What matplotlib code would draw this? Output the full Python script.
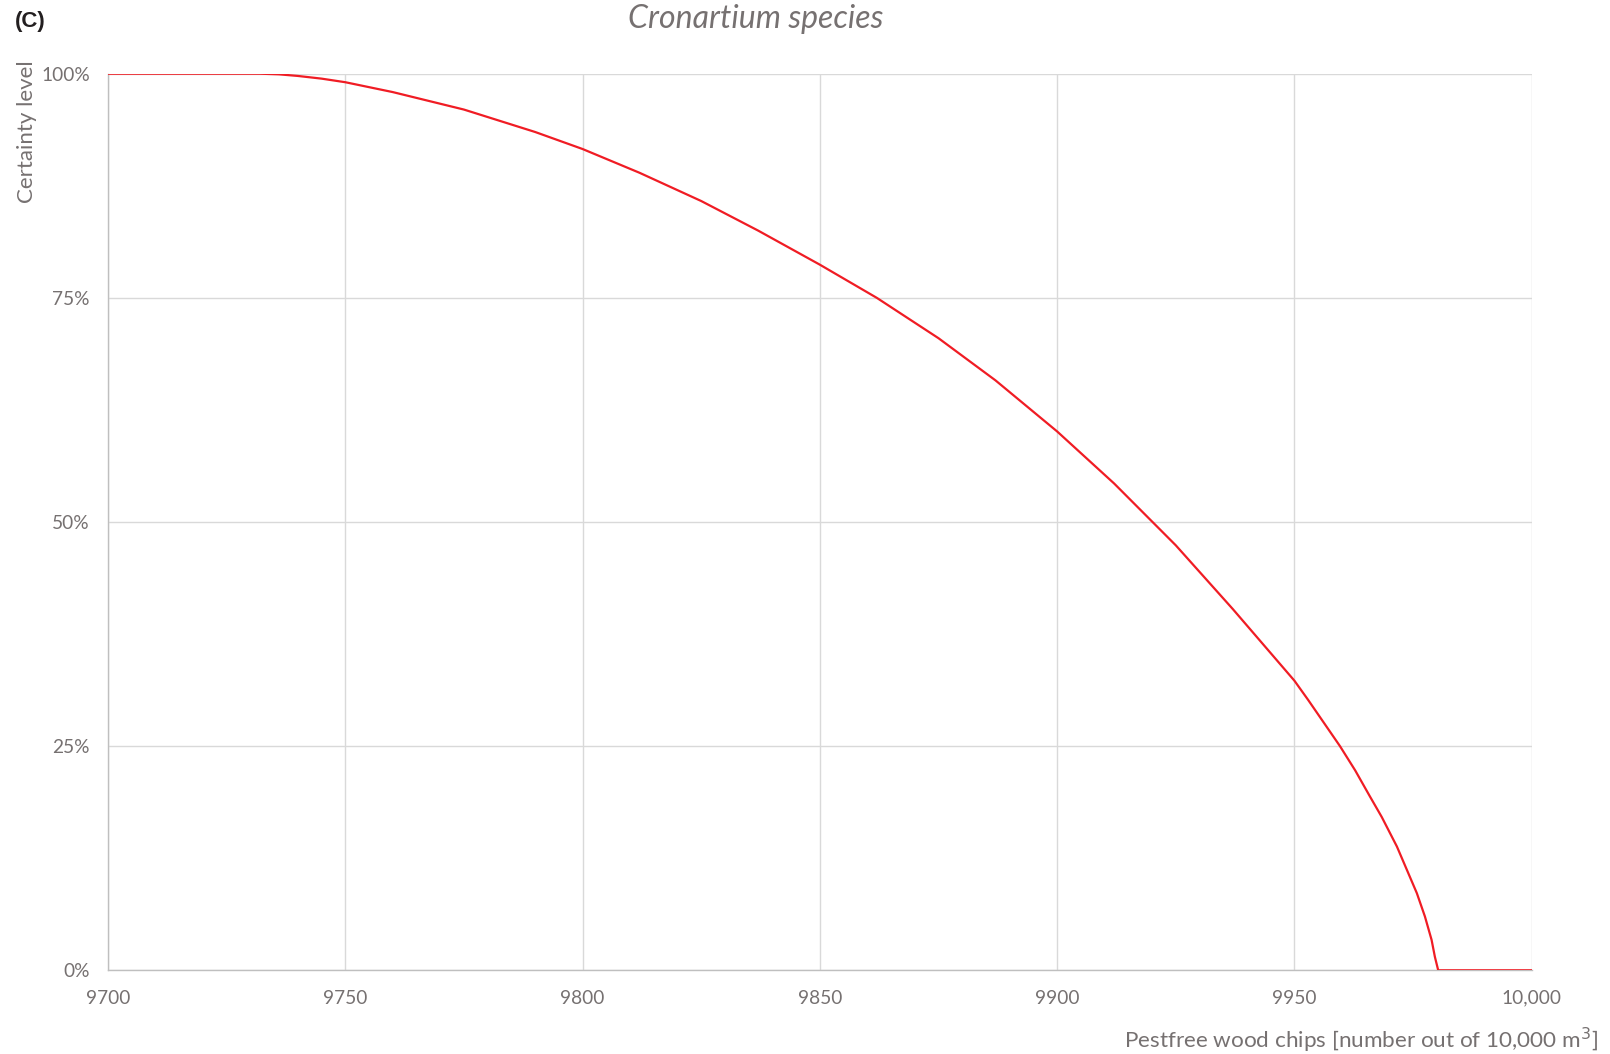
import matplotlib
matplotlib.use("Agg")
import matplotlib.pyplot as plt
from matplotlib.ticker import FuncFormatter

# Data (x = pest-free chips, y = certainty in %)
pestfree = [9700, 9732, 9736, 9740, 9745, 9750, 9760, 9775, 9790, 9800,
            9812, 9825, 9837, 9850, 9862, 9875, 9887, 9900, 9912, 9925,
            9937, 9950, 9952.9, 9959.6, 9962.8, 9965.9, 9968.4, 9971.6,
            9973.7, 9975.8, 9977.5, 9978.9, 9979.6, 9980.3, 10000]
certainty = [100, 100, 99.93, 99.75, 99.45, 99.05, 97.95, 96.0, 93.5, 91.6,
             88.95, 85.8, 82.5, 78.7, 75.0, 70.5, 65.8, 60.1, 54.3, 47.4,
             40.3, 32.3, 30.15, 25.0, 22.3, 19.4, 17.1, 13.8,
             11.2, 8.6, 6.0, 3.4, 1.5, 0.0, 0.0]

x_ticks = [9700, 9750, 9800, 9850, 9900, 9950, 10000]
x_tick_labels = ["9700", "9750", "9800", "9850", "9900", "9950", "10,000"]
y_ticks = [0, 25, 50, 75, 100]

title = "Cronartium species"
panel = "(C)"
xlabel = "Pestfree wood chips [number out of 10,000 m$^3$]"
ylabel = "Certainty level"

W, H = 1610, 1054
fig = plt.figure(figsize=(W / 100, H / 100), dpi=100)
left, right, top, bottom = 108, 1531.7, 73.7, 970.3
ax = fig.add_axes([left / W, 1 - bottom / H, (right - left) / W, (bottom - top) / H])

grey_text = "#767171"
ax.plot(pestfree, certainty, color="#f01c24", lw=1.6, solid_joinstyle="round", zorder=3)

ax.set_xlim(9700, 10000)
ax.set_ylim(0, 100)
ax.set_xticks(x_ticks)
ax.set_xticklabels(x_tick_labels)
ax.set_yticks(y_ticks)
ax.yaxis.set_major_formatter(FuncFormatter(lambda v, p: f"{int(v)}%"))
ax.grid(True, color="#d9d9d9", lw=1.0)
ax.set_axisbelow(True)
for s in ["top", "right"]:
    ax.spines[s].set_visible(False)
for s in ["left", "bottom"]:
    ax.spines[s].set_color("#bfbfbf")
    ax.spines[s].set_linewidth(1.0)
ax.tick_params(length=0, labelsize=13.8, labelcolor=grey_text)
ax.tick_params(axis="y", pad=13)
ax.tick_params(axis="x", pad=14)
for lab in ax.get_xticklabels() + ax.get_yticklabels():
    lab.set_fontfamily("Lato")

fig.text(15 / W, 1 - 21 / H, panel, fontsize=16, fontweight="bold",
         family="Liberation Sans", color="#231f20", va="center", ha="left")
fig.text(756 / W, 1 - 19 / H, title, fontsize=23, style="italic",
         family="Lato", color=grey_text, va="center", ha="center")
fig.text(27 / W, 1 - 132 / H, ylabel, fontsize=16, family="Lato",
         color=grey_text, rotation=90, va="center", ha="center")
fig.text(1598 / W, 1 - 1040 / H, xlabel, fontsize=16.2, family="Lato",
         color=grey_text, va="center", ha="right")

fig.savefig("out.png", dpi=100, facecolor="white")
